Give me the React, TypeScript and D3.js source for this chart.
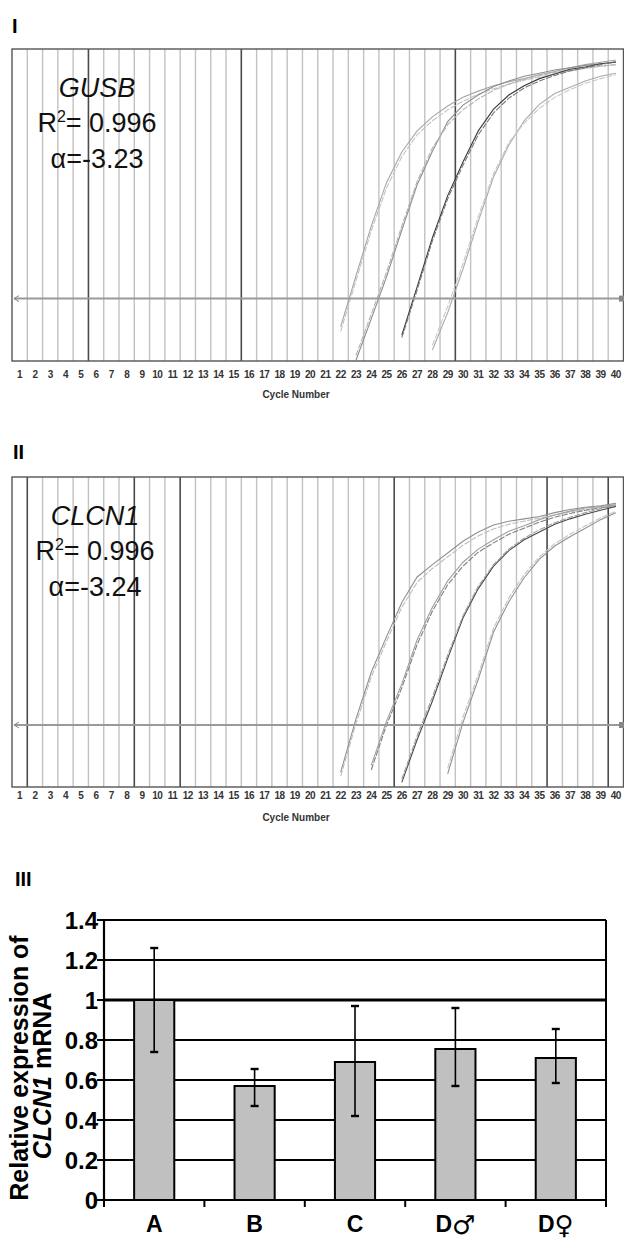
import React, { useEffect, useRef } from 'react';
import * as d3 from 'd3';

// cycle axis labels shared by both amplification plots
const cycleTicks = [
  1, 2, 3, 4, 5, 6, 7, 8, 9, 10, 11, 12, 13, 14, 15, 16, 17, 18, 19, 20,
  21, 22, 23, 24, 25, 26, 27, 28, 29, 30, 31, 32, 33, 34, 35, 36, 37, 38, 39, 40,
];

// log10 delta Rn (first value is at the start cycle)
const gusb1a = [-2.56, -1.91, -1.27, -0.71, -0.32, -0.05, 0.13, 0.27, 0.38, 0.46, 0.53, 0.58, 0.62, 0.67, 0.71, 0.76, 0.8, 0.83, 0.86];
const gusb1b = [-2.62, -1.97, -1.33, -0.78, -0.38, -0.1, 0.08, 0.22, 0.33, 0.42, 0.49, 0.55, 0.6, 0.64, 0.68, 0.72, 0.75, 0.78, 0.8];
const gusb2a = [-2.99, -2.46, -1.92, -1.32, -0.74, -0.31, 0.07, 0.28, 0.41, 0.52, 0.59, 0.65, 0.69, 0.73, 0.76, 0.79, 0.81, 0.83];
const gusb2b = [-2.93, -2.4, -1.86, -1.27, -0.7, -0.27, 0.03, 0.22, 0.36, 0.47, 0.55, 0.61, 0.66, 0.7, 0.73, 0.76, 0.78, 0.8];
const gusb3a = [-2.67, -2.05, -1.42, -0.88, -0.45, -0.05, 0.23, 0.41, 0.53, 0.62, 0.68, 0.74, 0.77, 0.81, 0.83];
const gusb3b = [-2.7, -2.09, -1.46, -0.92, -0.49, -0.1, 0.18, 0.37, 0.5, 0.59, 0.66, 0.72, 0.76, 0.8, 0.84];
const gusb4a = [-2.86, -2.38, -1.82, -1.21, -0.64, -0.23, 0.08, 0.29, 0.43, 0.51, 0.59, 0.65, 0.69];
const gusb4b = [-2.8, -2.3, -1.75, -1.15, -0.6, -0.2, 0.05, 0.24, 0.38, 0.48, 0.56, 0.62, 0.67];
const gusbStarts = [22, 22, 23, 23, 26, 26, 28, 28];

const clcn1a = [-2.81, -2.12, -1.52, -1.06, -0.62, -0.29, -0.13, 0.02, 0.17, 0.29, 0.38, 0.43, 0.46, 0.49, 0.54, 0.58, 0.61, 0.63, 0.66];
const clcn1b = [-2.86, -2.18, -1.58, -1.12, -0.68, -0.36, -0.18, -0.03, 0.12, 0.24, 0.33, 0.39, 0.43, 0.47, 0.51, 0.55, 0.58, 0.61, 0.63];
const clcn2a = [-2.72, -2.15, -1.67, -1.1, -0.68, -0.34, -0.1, 0.07, 0.19, 0.3, 0.37, 0.45, 0.51, 0.56, 0.6, 0.62, 0.64];
const clcn2b = [-2.78, -2.2, -1.72, -1.16, -0.73, -0.39, -0.15, 0.03, 0.15, 0.26, 0.34, 0.42, 0.48, 0.53, 0.57, 0.6, 0.62];
const clcn3a = [-2.94, -2.39, -1.89, -1.34, -0.82, -0.44, -0.15, 0.05, 0.19, 0.29, 0.39, 0.46, 0.52, 0.57, 0.62];
const clcn3b = [-2.9, -2.34, -1.84, -1.3, -0.79, -0.41, -0.13, 0.07, 0.21, 0.32, 0.41, 0.48, 0.54, 0.59, 0.64];
const clcn4a = [-2.83, -2.17, -1.61, -1.0, -0.61, -0.3, -0.06, 0.11, 0.23, 0.34, 0.45, 0.54];
const clcn4b = [-2.76, -2.1, -1.55, -0.95, -0.56, -0.26, -0.03, 0.14, 0.26, 0.37, 0.47, 0.56];
const clcnStarts = [22, 22, 24, 24, 26, 26, 29, 29];

const threshold = -2.2;

// heavier vertical lines in each run plot (cycle boundaries)
const gusbDarkLines = [5, 15, 29];
const clcnDarkLines = [1, 8, 11, 25, 35, 39];

// panel III
const groups = ['A', 'B', 'C', 'D♂', 'D♀'];
const expression = [1.0, 0.57, 0.69, 0.755, 0.71];
const errLow = [0.74, 0.47, 0.42, 0.57, 0.585];
const errHigh = [1.26, 0.655, 0.97, 0.96, 0.855];
const expTicks = [0, 0.2, 0.4, 0.6, 0.8, 1, 1.2, 1.4];

const gusbTones = ['#a6a6a6', '#c2c2c2', '#8e8e8e', '#b4b4b4', '#3a3a3a', '#7a7a7a', '#aaaaaa', '#c8c8c8'];
const clcnTones = ['#909090', '#bcbcbc', '#a0a0a0', '#808080', '#484848', '#a0a0a0', '#929292', '#c4c4c4'];

const SANS = "'Liberation Sans', Arial, sans-serif";

function drawRunPanel(svg, o) {
  const x = d3.scaleLinear().domain([0.5, 40.5]).range([12, 623.5]);
  const y = d3.scaleLinear().domain([-3, 1]).range([o.bottom, o.top]);
  const g = svg.append('g');

  g.append('text')
    .attr('x', o.labelX)
    .attr('y', o.labelY)
    .attr('font-family', SANS)
    .attr('font-weight', 'bold')
    .attr('font-size', 20)
    .text(o.label);

  g.append('rect')
    .attr('x', x(0.5)).attr('y', o.top)
    .attr('width', x(40.5) - x(0.5)).attr('height', o.bottom - o.top)
    .attr('fill', '#fff');

  // thin grid at every cycle boundary, some heavier
  const bounds = d3.range(1, 40);
  g.selectAll('.vl').data(bounds).enter().append('line')
    .attr('x1', d => x(d + 0.5)).attr('x2', d => x(d + 0.5))
    .attr('y1', o.top).attr('y2', o.bottom)
    .attr('stroke', d => (o.dark.includes(d) ? '#4a4a4a' : '#c2c2c2'))
    .attr('stroke-width', d => (o.dark.includes(d) ? 1.6 : 1.4));

  g.append('rect')
    .attr('x', x(0.5)).attr('y', o.top)
    .attr('width', x(40.5) - x(0.5)).attr('height', o.bottom - o.top)
    .attr('fill', 'none').attr('stroke', '#555').attr('stroke-width', 1.4);

  const clipId = 'clip-' + o.label;
  svg.append('clipPath').attr('id', clipId).append('rect')
    .attr('x', x(0.5)).attr('y', o.top)
    .attr('width', x(40.5) - x(0.5)).attr('height', o.bottom - o.top);

  const line = d3.line().x(d => x(d[0])).y(d => y(d[1]));
  const curvesG = g.append('g').attr('clip-path', `url(#${clipId})`);
  o.curves.forEach((vals, i) => {
    const pts = vals.map((v, k) => [o.starts[i] + k, v]);
    curvesG.append('path')
      .attr('d', line(pts))
      .attr('fill', 'none')
      .attr('stroke', o.tones[i])
      .attr('stroke-width', 1.1)
      .attr('stroke-dasharray', i % 2 ? '6,1.5' : null);
  });

  // threshold line with its end handles
  const ty = y(threshold);
  g.append('line')
    .attr('x1', x(0.5) + 2).attr('x2', 622)
    .attr('y1', ty).attr('y2', ty)
    .attr('stroke', '#9a9a9a').attr('stroke-width', 2);
  g.append('path')
    .attr('d', `M${x(0.5) + 7},${ty - 3} L${x(0.5) + 2},${ty} L${x(0.5) + 7},${ty + 3}`)
    .attr('fill', 'none').attr('stroke', '#888').attr('stroke-width', 1);
  g.append('rect')
    .attr('x', 619).attr('y', ty - 3).attr('width', 5).attr('height', 6)
    .attr('fill', '#888');

  g.selectAll('.tk').data(cycleTicks).enter().append('text')
    .attr('x', d => x(d))
    .attr('y', o.tickY)
    .attr('text-anchor', 'middle')
    .attr('dominant-baseline', 'middle')
    .attr('font-family', SANS)
    .attr('font-weight', 'bold')
    .attr('font-size', 10)
    .attr('letter-spacing', -0.5)
    .attr('fill', '#333')
    .text(d => d);

  g.append('text')
    .attr('x', 296).attr('y', o.titleY)
    .attr('text-anchor', 'middle')
    .attr('dominant-baseline', 'middle')
    .attr('font-family', SANS)
    .attr('font-weight', 'bold')
    .attr('font-size', 10)
    .attr('fill', '#333')
    .text('Cycle Number');

  // gene annotation
  const ann = g.append('g')
    .attr('font-family', SANS).attr('font-size', 27)
    .attr('text-anchor', 'middle').attr('fill', '#111');
  ann.append('text').attr('x', o.annX).attr('y', o.top + 48)
    .attr('font-style', 'italic').text(o.gene);
  const r2 = ann.append('text').attr('x', o.annX).attr('y', o.top + 83);
  r2.append('tspan').text('R');
  r2.append('tspan').attr('font-size', 16).attr('dy', -10).text('2');
  r2.append('tspan').attr('dy', 10).text(`= ${o.r2}`);
  ann.append('text').attr('x', o.annX).attr('y', o.top + 119).text(`α=${o.alpha}`);
}

function drawBars(svg) {
  const left = 104, right = 606, top = 920, bottom = 1200;
  const x = d3.scaleBand().domain(groups).range([left, right])
    .paddingInner(0.6).paddingOuter(0.3);
  const y = d3.scaleLinear().domain([0, 1.4]).range([bottom, top]);
  const g = svg.append('g');

  g.append('text')
    .attr('x', 15).attr('y', 886)
    .attr('font-family', SANS).attr('font-weight', 'bold').attr('font-size', 20)
    .text('III');

  g.selectAll('.gl').data(expTicks.slice(1)).enter().append('line')
    .attr('x1', left).attr('x2', right)
    .attr('y1', d => y(d)).attr('y2', d => y(d))
    .attr('stroke', '#000')
    .attr('stroke-width', d => (d === 1 ? 3.2 : 2.2));
  g.append('line')
    .attr('x1', right).attr('x2', right).attr('y1', top).attr('y2', bottom)
    .attr('stroke', '#000').attr('stroke-width', 2);

  g.selectAll('.bar').data(groups).enter().append('rect')
    .attr('x', d => x(d))
    .attr('y', (d, i) => y(expression[i]))
    .attr('width', x.bandwidth())
    .attr('height', (d, i) => bottom - y(expression[i]))
    .attr('fill', '#c0c0c0')
    .attr('stroke', '#000')
    .attr('stroke-width', 2);

  const cx = d => x(d) + x.bandwidth() / 2;
  g.selectAll('.eb').data(groups).enter().append('line')
    .attr('x1', cx).attr('x2', cx)
    .attr('y1', (d, i) => y(errLow[i])).attr('y2', (d, i) => y(errHigh[i]))
    .attr('stroke', '#000').attr('stroke-width', 1.6);
  [errLow, errHigh].forEach(arr => {
    g.selectAll(null).data(groups).enter().append('line')
      .attr('x1', d => cx(d) - 4).attr('x2', d => cx(d) + 4)
      .attr('y1', (d, i) => y(arr[i])).attr('y2', (d, i) => y(arr[i]))
      .attr('stroke', '#000').attr('stroke-width', 2.4);
  });

  // axes
  g.append('line').attr('x1', left).attr('x2', left).attr('y1', top).attr('y2', bottom)
    .attr('stroke', '#000').attr('stroke-width', 2.2);
  g.append('line').attr('x1', left - 7).attr('x2', right).attr('y1', bottom).attr('y2', bottom)
    .attr('stroke', '#000').attr('stroke-width', 2.2);
  g.selectAll('.yt').data(expTicks).enter().append('line')
    .attr('x1', left - 7).attr('x2', left)
    .attr('y1', d => y(d)).attr('y2', d => y(d))
    .attr('stroke', '#000').attr('stroke-width', 2);
  g.selectAll('.yl').data(expTicks).enter().append('text')
    .attr('x', left - 6).attr('y', d => y(d))
    .attr('text-anchor', 'end').attr('dominant-baseline', 'central')
    .attr('font-family', SANS).attr('font-weight', 'bold').attr('font-size', 24)
    .text(d => d3.format('~g')(d));

  const step = x.step();
  const edges = d3.range(0, groups.length + 1).map(k => left + k * step);
  g.selectAll('.xt').data(edges).enter().append('line')
    .attr('x1', d => d).attr('x2', d => d)
    .attr('y1', bottom).attr('y2', bottom + 7)
    .attr('stroke', '#000').attr('stroke-width', 2);

  // category labels, with the sex symbols set a bit larger
  const xl = g.selectAll('.xl').data(groups).enter().append('text')
    .attr('x', cx).attr('y', 1232)
    .attr('text-anchor', 'middle')
    .attr('font-family', SANS).attr('font-weight', 'bold').attr('font-size', 23);
  xl.append('tspan').text(d => d.charAt(0));
  xl.filter(d => d.length > 1).append('tspan')
    .attr('font-family', "'DejaVu Sans', sans-serif")
    .attr('font-size', 26)
    .attr('dy', 2)
    .text(d => d.slice(1));

  const t1 = g.append('text')
    .attr('transform', 'translate(28,1068) rotate(-90)')
    .attr('text-anchor', 'middle')
    .attr('font-family', SANS).attr('font-weight', 'bold').attr('font-size', 25);
  t1.text('Relative expression of');
  const t2 = g.append('text')
    .attr('transform', 'translate(51,1076) rotate(-90)')
    .attr('text-anchor', 'middle')
    .attr('font-family', SANS).attr('font-weight', 'bold').attr('font-size', 25);
  t2.append('tspan').attr('font-style', 'italic').text('CLCN1');
  t2.append('tspan').text(' mRNA');
}

const App = () => {
  const svgRef = useRef(null);

  useEffect(() => {
    document.body.style.margin = '0';
    const svg = d3.select(svgRef.current);
    svg.selectAll('*').remove();

    drawRunPanel(svg, {
      label: 'I', labelX: 12, labelY: 33,
      top: 49, bottom: 361, tickY: 375, titleY: 395,
      gene: 'GUSB', r2: '0.996', alpha: '-3.23', annX: 97,
      dark: gusbDarkLines,
      curves: [gusb1a, gusb1b, gusb2a, gusb2b, gusb3a, gusb3b, gusb4a, gusb4b],
      starts: gusbStarts,
      tones: gusbTones,
    });
    drawRunPanel(svg, {
      label: 'II', labelX: 13, labelY: 459,
      top: 477, bottom: 787, tickY: 796, titleY: 818,
      gene: 'CLCN1', r2: '0.996', alpha: '-3.24', annX: 95,
      dark: clcnDarkLines,
      curves: [clcn1a, clcn1b, clcn2a, clcn2b, clcn3a, clcn3b, clcn4a, clcn4b],
      starts: clcnStarts,
      tones: clcnTones,
    });
    drawBars(svg);
  }, []);

  return (
    <svg ref={svgRef} width={624} height={1241}
      style={{ display: 'block', background: '#fff' }} />
  );
};

export default App;
